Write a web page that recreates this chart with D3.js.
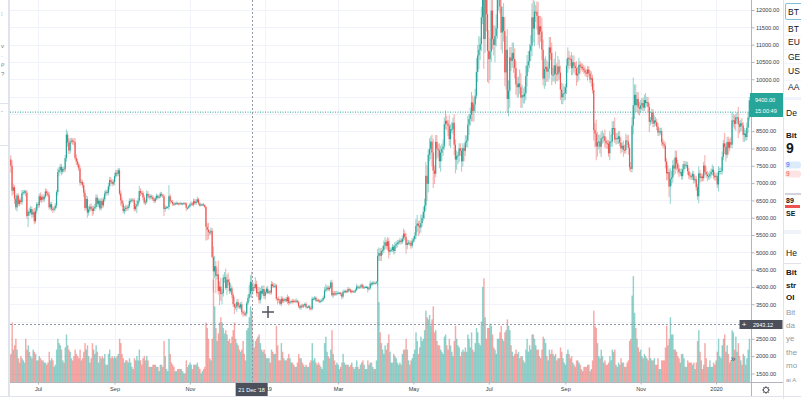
<!DOCTYPE html>
<html>
<head>
<meta charset="utf-8">
<script src="https://cdn.jsdelivr.net/npm/d3@7"></script>
<style>
  body { margin: 0; background: #fff; }
  svg { display: block; font-family: "Liberation Sans", Arial, sans-serif; }
</style>
</head>
<body>
<div id="chart"></div>
<script>
// BTCUSD daily, 7 Jun 2018 .. 28 Jan 2020 (open = previous close)
var firstDay = new Date(2018, 5, 7);
var firstOpen = 7620;

var closes = [
  7650,7680,7500,6780,6880,6550,6300,6640,6400,6500,6450,6710,6740,6760,6720,6050,6170,6150,6250,6090,6160,5900,6200,6390, // jun 18
  6360,6620,6510,6600,6530,6610,6760,6710,6660,6300,6390,6250,6230,6270,6350,6740,7320,7380,7470,7330,7410,7400,7720,8400,8170,7940,8200,8230,8210,8180,7730, // jul
  7620,7540,7420,7010,7030,6940,6720,6280,6540,6150,6240,6320,6260,6200,6270,6310,6580,6400,6490,6270,6480,6360,6530,6700,6750,6720,6910,7090,7040,6980,7030, // aug
  7200,7300,7270,7370,6700,6500,6410,6190,6250,6290,6280,6330,6480,6490,6520,6500,6250,6330,6380,6490,6770,6720,6710,6590,6440,6460,6690,6630,6590,6620, // sep
  6590,6530,6480,6560,6630,6580,6610,6690,6650,6620,6250,6290,6300,6310,6620,6480,6460,6400,6380,6420,6420,6410,6400,6420,6400,6410,6420,6410,6290,6290,6330, // oct
  6380,6410,6380,6480,6420,6460,6530,6410,6350,6380,6380,6360,6310,5740,5650,5580,5570,5620,4870,4450,4600,4320,4360,3880,4010,3800,3820,4270,4280,3970, // nov
  4210,4140,3880,3960,3770,3510,3420,3430,3560,3460,3410,3500,3270,3240,3210,3230,3530,3680,3800,4140,3880,4000,3980,4080,3820,3850,3620,3880,3810,3940,3740, // dec
  3850,3950,3830,3870,3840,4080,4030,4030,4040,3660,3650,3620,3510,3660,3590,3630,3650,3590,3700,3540,3560,3590,3570,3600,3590,3600,3560,3440,3400,3460,3440, // jan 19
  3470,3510,3420,3420,3440,3380,3370,3660,3660,3690,3610,3620,3600,3580,3600,3630,3680,3900,3930,3980,3930,3980,4130,3760,3820,3800,3810,3820, // feb
  3830,3830,3800,3720,3860,3870,3880,3860,3940,3920,3860,3880,3860,3870,3910,4010,3980,3990,4020,4050,3980,3990,4000,4000,3940,3960,4100,4080,4120,4110,4110, // mar
  4140,4900,4980,4900,5040,5060,5200,5290,5180,5320,5020,5070,5070,5160,5040,5200,5240,5280,5290,5340,5300,5400,5540,5450,5210,5270,5280,5270,5190,5330, // apr
  5380,5480,5760,5830,5770,5720,5840,5990,6170,6350,7210,6980,7820,7990,8200,7880,7360,7270,8190,7990,7950,7630,7880,7990,8060,8700,8800,8720,8660,8270,8550, // may
  8560,8740,8110,7680,7790,7800,8000,7930,7630,8010,7930,8180,8230,8690,8850,8980,9330,9080,9270,9530,10210,10690,10850,11010,11790,12930,11160,12370,11880,10820, // jun
  10580,10800,11980,11160,10990,11250,11470,12290,12580,12100,11350,11800,11390,10200,10850,9430,9670,10630,10530,10760,10590,10320,9850,9770,9880,9770,9470,9540,9500,9590,10090, // jul
  10400,10520,10820,10970,11790,11460,11950,11950,11830,11290,11530,11380,10850,10020,10300,10360,10220,10310,10920,10760,10130,10130,10400,10160,10140,10370,10190,9700,9480,9580,9600, // aug
  9770,10390,10620,10590,10580,10320,10490,10390,10320,10110,10160,10420,10360,10360,10310,10260,10190,10160,10280,10170,9990,10030,9690,8530,8430,8060,8180,8200,8050,8290, // sep
  8320,8350,8220,8150,8140,7860,8200,8200,8590,8590,8260,8300,8280,8350,8160,8000,8080,7960,7950,8230,8200,8020,7460,7410,8660,9250,9550,9250,9430,9190,9150, // oct
  9250,9310,9180,9400,9310,9340,9200,8770,8810,9040,8720,8810,8760,8630,8460,8490,8500,8180,8120,8080,7620,7280,7320,6900,7120,7160,7510,7420,7740,7570, // nov
  7420,7320,7320,7200,7400,7540,7510,7520,7340,7220,7200,7190,7260,7080,7110,6880,6620,7280,7150,7190,7140,7510,7320,7250,7200,7200,7250,7320,7390,7220,7170, // dec
  7200,6960,7340,7350,7350,7760,8150,8040,7820,8190,8020,8180,8110,8810,8810,8710,8900,8900,8700,8630,8730,8660,8390,8430,8330,8600,8900,9390 // jan 20
];

// wick lengths above max(open, close) and below min(open, close), USD
var wickUp = [
  60,80,120,150,90,60,100,70,60,50,80,90,60,50,40,80,60,120,90,70,80,120,100,60,
  60,80,110,70,70,60,90,70,60,80,60,70,80,50,70,60,100,80,90,80,60,70,90,150,90,120,100,80,60,90,120,
  100,80,60,80,90,60,80,90,100,80,90,70,90,80,80,90,100,80,70,60,90,80,70,80,60,70,100,90,80,60,80,
  100,80,90,70,60,90,80,70,90,80,70,60,80,60,50,40,60,80,120,80,150,80,70,60,60,60,100,80,60,60,
  50,60,50,60,70,50,40,60,50,40,60,80,40,30,320,60,40,50,40,30,50,40,30,40,30,20,30,30,40,30,40,
  50,60,40,80,60,70,80,40,30,30,40,40,40,20,100,200,80,100,80,300,300,150,180,400,150,250,120,90,150,250,
  150,200,100,150,80,60,200,100,80,100,80,60,80,50,80,60,50,100,250,200,300,150,100,200,100,150,150,100,150,100,100,
  60,60,80,50,40,90,70,80,60,50,40,80,40,80,60,50,40,60,80,40,50,40,70,40,40,70,40,50,40,40,60,
  40,30,60,30,30,40,40,60,40,50,40,60,40,40,40,60,70,100,150,60,70,50,60,80,60,60,70,70,
  40,30,30,40,60,50,40,40,60,40,30,40,40,30,50,80,40,40,60,40,50,40,40,30,30,40,80,40,50,50,40,
  40,200,160,150,80,120,140,150,80,120,100,80,60,80,60,100,80,80,70,80,60,80,150,100,100,100,80,60,80,80,
  80,100,200,250,80,150,250,100,150,200,400,300,150,300,150,200,400,150,200,200,150,200,200,150,200,200,300,150,100,300,150,
  200,150,250,150,150,100,150,150,100,150,100,200,150,250,150,200,300,200,200,200,400,300,400,200,300,950,370,200,600,500,
  600,400,400,800,400,300,400,300,300,500,300,300,400,400,400,600,300,300,300,300,300,300,200,200,200,400,400,300,200,200,300,
  300,300,200,300,400,500,300,200,300,400,300,300,400,300,300,300,200,200,300,300,300,200,200,400,300,300,200,200,200,300,200,
  100,200,300,200,100,200,200,200,100,200,200,200,100,100,100,100,100,100,100,100,100,200,100,200,200,400,300,200,200,200,
  200,100,200,100,100,100,300,200,200,200,300,150,150,150,150,150,100,150,150,200,150,200,100,150,250,800,300,300,200,200,150,
  150,150,150,150,200,150,150,100,100,100,100,150,100,100,100,100,100,100,100,100,100,100,200,100,300,200,150,200,200,200,
  100,100,100,100,150,100,100,100,100,100,100,80,100,80,80,100,100,200,100,100,80,100,300,150,100,100,100,100,150,100,100,
  80,100,150,100,100,150,100,300,100,150,150,100,150,250,200,150,100,150,300,100,100,150,100,150,100,150,150,100
];

var wickDown = [
  100,90,200,150,100,150,80,120,60,70,60,80,60,70,100,80,320,100,60,90,80,90,60,80,
  80,70,60,90,60,80,50,90,60,60,80,60,90,60,60,80,100,120,100,110,60,90,80,100,120,100,90,60,100,90,60,
  100,80,70,90,60,80,120,80,60,150,90,60,70,150,100,80,60,90,80,60,60,90,60,70,80,60,80,100,60,70,60,
  90,60,80,70,60,150,100,60,90,80,90,70,60,80,50,60,70,60,200,60,60,90,50,80,60,80,60,70,70,60,
  60,50,60,50,50,60,40,50,40,50,200,80,40,40,80,90,40,60,40,30,40,40,50,30,40,30,30,40,100,60,40,
  40,50,40,60,50,50,40,50,30,20,30,30,40,400,300,200,80,60,40,600,200,500,100,100,400,200,300,100,150,60,
  200,100,80,60,100,80,200,80,150,80,50,60,80,100,60,60,80,60,100,100,200,100,100,50,100,120,100,100,150,60,80,
  100,50,40,40,60,60,50,60,70,60,150,80,40,60,60,60,60,40,80,70,40,40,50,40,50,60,40,50,50,60,40,
  50,40,50,40,30,60,40,40,50,50,40,40,50,40,50,40,50,40,50,60,40,60,40,40,80,60,50,60,
  40,40,60,80,50,40,50,40,40,50,40,50,30,30,40,30,40,40,40,60,40,40,30,40,100,40,40,60,40,50,30,
  30,100,150,150,150,120,80,100,100,120,200,100,60,60,100,80,80,100,60,60,70,60,80,100,250,120,60,80,100,60,
  60,80,100,180,300,200,150,100,80,200,150,500,250,200,300,400,500,300,100,300,200,200,300,250,200,100,150,200,300,200,250,
  100,150,300,400,300,250,200,150,300,150,300,150,150,200,300,200,200,300,300,200,100,300,400,300,200,200,860,400,500,900,
  700,600,300,300,300,500,300,300,300,200,500,600,300,400,500,400,500,500,300,200,400,300,300,300,300,200,300,300,200,200,200,
  300,200,200,300,300,400,500,300,400,300,400,300,300,200,300,500,300,300,300,200,300,200,200,300,200,200,200,300,200,200,200,
  200,200,200,300,200,200,200,200,200,300,200,200,200,100,100,100,100,100,200,100,100,200,100,300,400,400,300,200,200,300,
  150,150,200,150,150,100,200,150,150,200,100,150,150,150,100,150,100,200,100,100,100,200,100,100,100,250,400,200,200,200,200,
  100,150,100,100,150,100,150,300,100,100,100,100,100,100,100,100,100,100,100,100,200,200,200,300,500,200,150,200,150,200,
  150,150,100,100,100,100,100,80,100,100,100,100,100,100,80,100,100,200,150,100,100,80,100,100,150,100,100,100,100,100,100,
  100,100,200,100,100,100,100,200,200,100,200,100,100,100,200,150,200,100,400,200,150,150,200,200,100,100,150,100
];

// volume, thousand BTC
var volumes = [
  22,24,26,55,30,34,40,30,22,18,24,22,20,18,40,30,34,28,24,22,30,28,26,20,
  20,24,22,20,20,18,18,16,18,28,20,22,20,14,16,30,40,36,34,30,20,18,32,44,34,30,28,22,20,24,30,
  26,24,22,30,20,22,28,36,30,34,24,18,22,36,30,26,34,28,18,24,22,24,22,26,16,16,26,30,22,24,22,
  24,22,24,26,40,36,26,22,18,20,20,18,22,18,14,12,22,20,24,20,30,20,16,22,24,20,24,20,14,14,
  14,16,16,16,14,14,10,16,16,14,38,24,12,10,40,26,18,16,14,10,10,12,12,12,12,10,8,8,20,14,16,
  18,16,12,16,16,16,18,14,12,8,10,12,14,55,50,40,22,20,40,95,70,50,38,45,55,60,55,50,45,48,
  44,38,40,36,42,48,55,40,36,34,30,28,30,38,26,20,48,50,60,70,66,40,32,38,40,42,44,36,30,28,30,
  26,22,22,22,18,30,28,26,26,52,34,20,20,36,28,22,20,20,22,26,22,18,18,16,14,14,18,26,22,22,18,
  16,14,16,14,14,18,20,36,20,22,18,16,18,16,14,12,20,36,42,28,24,22,30,48,26,20,16,18,
  16,12,14,18,26,18,16,16,16,14,16,18,14,12,14,20,14,12,16,18,20,16,12,12,20,16,18,18,14,12,12,
  20,92,74,46,36,30,26,34,30,36,44,28,18,18,26,24,22,18,16,18,16,26,30,30,40,30,20,16,20,22,
  26,30,46,38,26,32,42,38,40,48,66,60,58,62,52,58,70,46,48,38,34,34,30,28,26,42,44,34,30,40,34,
  28,24,38,52,40,34,32,24,28,30,28,32,28,44,40,32,46,30,28,36,50,46,36,34,56,88,96,60,40,50,
  50,54,52,44,32,30,26,40,40,46,52,40,38,46,48,58,52,48,34,28,24,26,30,26,28,22,24,24,20,18,30,
  40,28,34,30,44,44,40,34,30,30,24,22,30,42,40,36,24,20,30,26,30,26,24,26,20,22,22,32,28,22,18,
  16,26,30,26,22,24,18,16,14,20,20,18,16,12,10,14,14,14,16,16,10,12,20,66,52,50,36,24,22,30,
  24,18,20,16,16,18,24,20,30,28,30,16,14,18,16,22,18,18,14,14,18,20,38,40,80,98,64,50,40,32,28,
  30,24,22,26,24,22,20,32,22,20,20,22,16,16,22,12,12,20,20,20,32,52,34,40,60,44,44,30,30,28,
  24,22,18,26,26,22,14,14,20,18,18,18,16,18,12,18,38,48,28,20,12,16,36,22,14,14,20,14,14,18,16,
  20,28,40,24,22,34,40,44,28,34,26,18,20,48,46,30,42,28,36,24,20,16,26,24,16,22,30,40
];

var priceTicks = d3.range(1500, 12001, 500);
var lastLabel = "9400.00", lastPrice = 9400, countdown = "15:00:49";
var linePrice = 9050;
var crossPrice = 2943.12, crossDate = new Date(2018, 11, 21), crossText = "21 Dec '18";
var watchRows = ["BT", "BT", "EU", "GE", "US", "AA"];

var W = 801, H = 399;
var left = 10, right = 751, bottom = 382;
var up = "#26a69a", down = "#ef5350";

var candles = closes.map(function(c, i) {
  var o = i === 0 ? firstOpen : closes[i - 1];
  return {
    date: d3.timeDay.offset(firstDay, i),
    open: o, close: c,
    high: Math.max(o, c) + wickUp[i],
    low: Math.min(o, c) - wickDown[i],
    volume: volumes[i]
  };
});

var x = d3.scaleTime()
  .domain([new Date(2018, 6, 1), new Date(2020, 0, 1)])
  .range([38, 716]);
var y = d3.scaleLinear().domain([1500, 12000]).range([373.5, 10]);
var v = d3.scaleLinear().domain([0, 100]).range([bottom, bottom - 108]);
var step = x(new Date(2019, 0, 2)) - x(new Date(2019, 0, 1));

var svg = d3.select("#chart").append("svg")
  .attr("width", W)
  .attr("height", H);

svg.append("rect").attr("width", W).attr("height", H).attr("fill", "#fff");

var monthTicks = x.ticks(d3.timeMonth.every(2));
var ly = y(lastPrice);
var cy = Math.round(y(crossPrice)) + 0.5;

// grid
svg.append("g").selectAll("line").data(monthTicks).enter().append("line")
  .attr("x1", function(d) { return Math.round(x(d)) + 0.5; })
  .attr("x2", function(d) { return Math.round(x(d)) + 0.5; })
  .attr("y1", 0).attr("y2", bottom)
  .attr("stroke", "#f0f3fa");
svg.append("g").selectAll("line").data(priceTicks).enter().append("line")
  .attr("x1", left).attr("x2", right)
  .attr("y1", function(d) { return Math.round(y(d)) + 0.5; })
  .attr("y2", function(d) { return Math.round(y(d)) + 0.5; })
  .attr("stroke", "#f0f3fa");

svg.append("clipPath").attr("id", "pane").append("rect")
  .attr("x", left).attr("y", 0).attr("width", right - left).attr("height", bottom);

var pane = svg.append("g").attr("clip-path", "url(#pane)");

// volume
pane.append("g").selectAll("rect").data(candles).enter().append("rect")
  .attr("x", function(d) { return x(d.date) - step / 2; })
  .attr("width", step + 0.2)
  .attr("y", function(d) { return v(d.volume); })
  .attr("height", function(d) { return bottom - v(d.volume); })
  .attr("fill", function(d) { return d.close >= d.open ? up : down; })
  .attr("fill-opacity", 0.5);

// wicks and bodies
pane.append("g").selectAll("line").data(candles).enter().append("line")
  .attr("x1", function(d) { return x(d.date); })
  .attr("x2", function(d) { return x(d.date); })
  .attr("y1", function(d) { return y(d.high); })
  .attr("y2", function(d) { return y(d.low); })
  .attr("stroke", function(d) { return d.close >= d.open ? up : down; })
  .attr("stroke-opacity", 0.55)
  .attr("stroke-width", 0.9);

pane.append("g").selectAll("rect").data(candles).enter().append("rect")
  .attr("x", function(d) { return x(d.date) - 0.6; })
  .attr("width", 1.2)
  .attr("y", function(d) { return y(Math.max(d.open, d.close)); })
  .attr("height", function(d) { return Math.max(1, Math.abs(y(d.open) - y(d.close))); })
  .attr("fill", function(d) { return d.close >= d.open ? up : down; });

// price line
svg.append("line")
  .attr("x1", left).attr("x2", right)
  .attr("y1", y(linePrice)).attr("y2", y(linePrice))
  .attr("stroke", up).attr("stroke-dasharray", "1,1.5");

// crosshair
svg.append("line")
  .attr("x1", Math.round(x(crossDate)) + 0.5).attr("x2", Math.round(x(crossDate)) + 0.5)
  .attr("y1", 0).attr("y2", bottom)
  .attr("stroke", "#9598a1").attr("stroke-dasharray", "2,2");
svg.append("line")
  .attr("x1", left).attr("x2", right)
  .attr("y1", cy).attr("y2", cy)
  .attr("stroke", "#9598a1").attr("stroke-dasharray", "2,2");

// mouse cursor
var cur = svg.append("g").attr("transform", "translate(268,312)")
  .attr("stroke", "#50535e").attr("stroke-width", 1.5);
cur.append("line").attr("x1", -6).attr("x2", 6);
cur.append("line").attr("y1", -6).attr("y2", 6);

// scroll button
svg.append("text")
  .attr("x", 733).attr("y", 361.5)
  .attr("text-anchor", "middle")
  .style("font-size", "9px")
  .style("fill", "#50535e")
  .text("»");

// left strip
svg.append("rect").attr("x", 8).attr("y", 0).attr("width", 2).attr("height", 397).attr("fill", "#e0e3eb");
[103, 145].forEach(function(yy) {
  svg.append("line").attr("x1", 0).attr("x2", 8).attr("y1", yy + 0.5).attr("y2", yy + 0.5).attr("stroke", "#e0e3eb");
});
[["⁝", 16], ["v", 48], ["·", 58], ["ρ", 66], ["?", 76], ["-", 113]].forEach(function(g) {
  svg.append("text").attr("x", 1).attr("y", g[1])
    .style("font-size", "6px").style("fill", "#787b86").text(g[0]);
});

// price axis; labels hidden under the last price and crosshair boxes are skipped
svg.append("line").attr("x1", right + 0.5).attr("x2", right + 0.5).attr("y1", 0).attr("y2", 397)
  .attr("stroke", "#b2b5be");

var shownTicks = priceTicks.filter(function(p) {
  var py = y(p);
  return !(py > ly - 11 && py < ly + 21) && Math.abs(py - cy) > 8;
});

var yAxis = svg.append("g")
  .attr("transform", "translate(" + (right + 0.5) + ",0)")
  .call(d3.axisRight(y).tickValues(shownTicks).tickSize(3).tickSizeOuter(0).tickPadding(1.5)
    .tickFormat(d3.format(".2f")));
yAxis.select(".domain").remove();
yAxis.selectAll("line").attr("stroke", "#b2b5be");
yAxis.selectAll("text")
  .style("font-family", "'Liberation Sans', Arial, sans-serif")
  .style("font-size", "5.6px")
  .style("fill", "#363a45");

// time axis
svg.append("line").attr("x1", left).attr("x2", 783).attr("y1", bottom + 0.5).attr("y2", bottom + 0.5)
  .attr("stroke", "#b2b5be");
svg.append("line").attr("x1", 0).attr("x2", 783).attr("y1", 396.5).attr("y2", 396.5)
  .attr("stroke", "#e0e3eb");

var xAxis = svg.append("g")
  .attr("transform", "translate(0," + (bottom + 0.5) + ")")
  .call(d3.axisBottom(x).tickValues(monthTicks).tickSize(2).tickSizeOuter(0).tickPadding(3)
    .tickFormat(function(d) { return d.getMonth() === 0 ? d3.timeFormat("%Y")(d) : d3.timeFormat("%b")(d); }));
xAxis.select(".domain").remove();
xAxis.selectAll("line").attr("stroke", "#b2b5be");
xAxis.selectAll("text")
  .style("font-family", "'Liberation Sans', Arial, sans-serif")
  .style("font-size", "5.6px")
  .style("fill", "#363a45");

// last price label
svg.append("rect").attr("x", 750).attr("y", ly - 7).attr("width", 33).attr("height", 24).attr("fill", up);
svg.append("text").attr("x", 755).attr("y", ly + 2)
  .style("font-size", "5.6px").style("fill", "#fff").text(lastLabel);
svg.append("text").attr("x", 755).attr("y", ly + 13)
  .style("font-size", "5.6px").style("fill", "#fff").text(countdown);

// crosshair labels
svg.append("rect").attr("x", 739.5).attr("y", cy - 4.5).attr("width", 43).attr("height", 9).attr("fill", "#4c505b");
svg.append("text").attr("x", 744).attr("y", cy + 2.3).attr("text-anchor", "middle")
  .style("font-size", "8px").style("fill", "#fff").text("+");
svg.append("text").attr("x", 753).attr("y", cy + 2)
  .style("font-size", "5.6px").style("fill", "#fff").text(crossPrice.toFixed(2));

var cx = x(crossDate);
svg.append("rect").attr("x", cx - 16).attr("y", 383).attr("width", 32).attr("height", 13).attr("fill", "#4c505b");
svg.append("text").attr("x", cx).attr("y", 391.5).attr("text-anchor", "middle")
  .style("font-size", "5.6px").style("fill", "#fff").text(crossText);

// settings gear
var gear = svg.append("g").attr("transform", "translate(766,390)");
gear.append("circle").attr("r", 2.6).attr("fill", "none").attr("stroke", "#50535e").attr("stroke-width", 1);
gear.selectAll("line").data(d3.range(8)).enter().append("line")
  .attr("x1", function(d) { return 2.6 * Math.cos(d * Math.PI / 4); })
  .attr("y1", function(d) { return 2.6 * Math.sin(d * Math.PI / 4); })
  .attr("x2", function(d) { return 3.8 * Math.cos(d * Math.PI / 4); })
  .attr("y2", function(d) { return 3.8 * Math.sin(d * Math.PI / 4); })
  .attr("stroke", "#50535e").attr("stroke-width", 1);

// right panel
svg.append("rect").attr("x", 783).attr("y", 0).attr("width", 18).attr("height", H).attr("fill", "#fff");
svg.append("line").attr("x1", 783.5).attr("x2", 783.5).attr("y1", 0).attr("y2", H).attr("stroke", "#e0e3eb");

svg.append("rect").attr("x", 785.5).attr("y", 3.5).attr("width", 20).attr("height", 16).attr("rx", 1.5)
  .attr("fill", "#fff").attr("stroke", "#7cc4d4");
var rowY = [11.7, 29, 42.3, 56.7, 70.7, 87.3];
watchRows.forEach(function(t, i) {
  svg.append("text").attr("x", 788).attr("y", rowY[i] + 3)
    .style("font-size", "8.5px").style("fill", "#131722").text(t);
  if (i > 0) {
    svg.append("line").attr("x1", 784).attr("x2", W).attr("y1", rowY[i] - 7).attr("y2", rowY[i] - 7)
      .attr("stroke", "#f0f3fa");
  }
});
svg.append("rect").attr("x", 784).attr("y", 97).attr("width", 17).attr("height", 3).attr("fill", "#f0f3fa");
svg.append("rect").attr("x", 784).attr("y", 230).attr("width", 17).attr("height", 4).attr("fill", "#f0f3fa");
svg.append("line").attr("x1", 784).attr("x2", W).attr("y1", 263.5).attr("y2", 263.5).attr("stroke", "#e0e3eb");

function panelText(t, yy, size, weight, color) {
  svg.append("text").attr("x", 786).attr("y", yy)
    .style("font-size", size + "px").style("font-weight", weight).style("fill", color).text(t);
}
panelText("De", 116.3, 8.5, "normal", "#131722");
panelText("Bit", 138, 8, "bold", "#131722");
panelText("9", 152.5, 14, "bold", "#131722");
svg.append("rect").attr("x", 785).attr("y", 161.5).attr("width", 16).attr("height", 7).attr("rx", 3).attr("fill", "#dcebfb");
panelText("9", 167.3, 6.5, "normal", "#2962ff");
svg.append("rect").attr("x", 785).attr("y", 170.5).attr("width", 16).attr("height", 7).attr("rx", 3).attr("fill", "#fde4e4");
panelText("9", 176.3, 6.5, "normal", "#ef5350");
svg.append("rect").attr("x", 785).attr("y", 193).attr("width", 16).attr("height", 2).attr("fill", "#d1d4dc");
panelText("89", 202.5, 7, "bold", "#131722");
svg.append("rect").attr("x", 785).attr("y", 205).attr("width", 15).attr("height", 3).attr("fill", "#ef5350");
panelText("SE", 215.8, 7, "bold", "#131722");
panelText("He", 256.3, 8.5, "normal", "#131722");
panelText("Bit", 274.5, 8, "bold", "#131722");
panelText("str", 287.8, 8, "bold", "#131722");
panelText("OI", 299.5, 8, "bold", "#131722");
panelText("Bit", 314.5, 8, "normal", "#9598a1");
panelText("da", 327.8, 8, "normal", "#9598a1");
panelText("ye", 341, 8, "normal", "#9598a1");
panelText("the", 354.5, 8, "normal", "#9598a1");
panelText("mo", 367.8, 8, "normal", "#9598a1");
panelText("at A", 382, 6, "normal", "#9598a1");
svg.append("line").attr("x1", 784).attr("x2", W).attr("y1", 396.5).attr("y2", 396.5).attr("stroke", "#e0e3eb");
</script>
</body>
</html>
